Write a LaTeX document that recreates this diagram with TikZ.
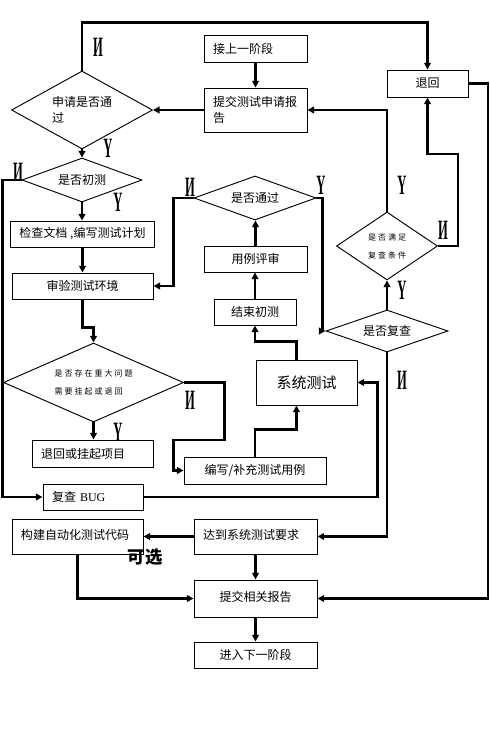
\documentclass[tikz,border=0pt]{standalone}
\usepackage{fontspec}
\usepackage{graphicx}
\setmainfont{Liberation Serif}
\newfontfamily\cjk{Noto Sans CJK SC}
\newfontfamily\cjksmall[LetterSpace=25]{Noto Sans CJK SC}
\usetikzlibrary{shapes.geometric,arrows.meta,calc}
\begin{document}
\begin{tikzpicture}[x=0.75pt,y=-0.75pt,
  conn/.style={line width=1.9pt},
  arr/.style={conn,-{Triangle[length=5pt,width=5pt]}},
  box/.style={draw,line width=0.7pt,inner ysep=0pt,inner xsep=6.75pt,font=\cjk\fontsize{9}{12}\selectfont},
  dia/.style={diamond,draw,line width=0.7pt,inner sep=0pt,font=\cjk\fontsize{9}{12}\selectfont},
  tiny/.style={font=\cjksmall\fontsize{6}{13.5}\selectfont},
  yn/.style={font=\bfseries\fontsize{21}{21}\selectfont,inner sep=0pt},
]
\useasboundingbox[fill=white] (0,0) rectangle (489,730);

% boxes
\node[box,minimum width=77.25pt,minimum height=20.25pt,text width=63.75pt,align=left] (jieshang) at (255.5,48.5) {接上一阶段};
\node[box,minimum width=77.25pt,minimum height=33pt,text width=63.75pt,align=left] (tijiao) at (255.5,110) {提交测试申请报\\告};
\node[box,minimum width=60.75pt,minimum height=20.25pt] (tuihui) at (427.5,83.5) {退回};
\node[box,minimum width=105.75pt,minimum height=19.5pt] (jiancha) at (82.5,234) {检查文档 ,编写测试计划};
\node[box,minimum width=105.75pt,minimum height=19.5pt] (shenyan) at (82.5,286) {审验测试环境};
\node[box,minimum width=77.25pt,minimum height=19.5pt] (yongli) at (255.5,259) {用例评审};
\node[box,minimum width=61.5pt,minimum height=19.5pt] (jieshu) at (255,312) {结束初测};
\node[box,minimum width=75.75pt,minimum height=33.75pt,font=\cjk\fontsize{11.25}{13}\selectfont] (xitong) at (306.5,382.5) {系统测试};
\node[box,minimum width=90.75pt,minimum height=20.25pt,text width=77.25pt,align=left] (tuihuiguaqi) at (92.5,453.5) {退回或挂起项目};
\node[box,minimum width=106.5pt,minimum height=20.25pt] (bianxie) at (255,470.5) {编写/补充测试用例};
\node[box,minimum width=75pt,minimum height=19.5pt,text width=61.5pt,align=left] (fucha) at (93,497) {复查 {\rmfamily BUG}};
\node[box,minimum width=98.25pt,minimum height=26.25pt,text width=84.75pt,align=left] (goujian) at (77.5,536.5) {\raisebox{3pt}{构建自动化测试代码}};
\node[box,minimum width=92.25pt,minimum height=26.25pt,text width=78.75pt,align=left] (dadao) at (255.5,536.5) {\raisebox{3pt}{达到系统测试要求}};
\node[box,minimum width=92.25pt,minimum height=27.75pt] (report) at (255.5,598.5) {\raisebox{3pt}{提交相关报告}};
\node[box,minimum width=92.25pt,minimum height=19.5pt] (jinru) at (255.5,655) {进入下一阶段};

% diamonds
\node[dia,aspect=1.8,minimum width=105.75pt,minimum height=58.5pt,align=left] (d1) at (82,110) {申请是否通\\过};
\node[dia,aspect=2.7,minimum width=90pt,minimum height=33pt] (d2) at (82,180) {是否初测};
\node[dia,aspect=2.8,minimum width=91.5pt,minimum height=33pt] (d3) at (255,198) {是否通过};
\node[dia,tiny,aspect=2.27,minimum width=135pt,minimum height=59.25pt,align=left] (d4) at (93.5,382.5) {是否存在重大问题\\需要挂起或退回};
\node[dia,tiny,aspect=1.5,minimum width=75.75pt,minimum height=51pt,align=left] (d5) at (387,246) {是否满足\\复查条件};
\node[dia,aspect=2.9,minimum width=91.5pt,minimum height=31.5pt] (d6) at (387,331) {是否复查};

% connectors
\draw[arr] (d1.north) -- ++(0,-48) -| (tuihui.north);
\draw[arr] (jieshang.south) -- (tijiao.north);
\draw[arr] (tijiao.west) -- (d1.east);
\draw[arr] (d5.north) |- (tijiao.east);
\draw[arr] (tuihui.east) -- ++(19.5,0) |- (report.east);
\draw[arr] (d5.east) -- ++(20,0) -- ++(0,-92) -| (tuihui.south);
\draw[arr] (d6.north) -- (d5.south);
\draw[arr] (d3.east) -- ++(6,0) |- (d6.west);
\draw[arr] (d3.west) -- ++(-20,0) |- (shenyan.east);
\draw[arr] (yongli.north) -- (yongli.north |- d3.south);
\draw[arr] (jieshu.north) -- (jieshu.north |- yongli.south);
\draw[arr] (xitong.north -| jieshu.east) -- ++(0,-18) -| (jieshu.south);
\draw[arr] (d1.south) -- (d2.north);
\draw[arr] (d2.south) -- (d2.south |- jiancha.north);
\draw[arr] (jiancha.south) -- (shenyan.north);
\draw[arr] (d2.west) -- ++(-19,0) |- (fucha.west);
\draw[arr] (shenyan.south) -- ++(0,28) -| (d4.north);
\draw[arr] (d4.south) -- (d4.south |- tuihuiguaqi.north);
\draw[arr] (d4.east) -- ++(40.5,0) -- ++(0,57.5) -- ++(-51,0) |- (bianxie.west);
\draw[arr] (bianxie.north) -- ++(0,-27) -| (xitong.south -| jieshu.east);
\draw[arr] (fucha.east) -- ++(234,0) |- (xitong.east);
\draw[arr] (d6.south) |- (dadao.east);
\draw[arr] (dadao.west) -- (goujian.east);
\draw[arr] (goujian.south) |- (report.west);
\draw[arr] (dadao.south) -- (report.north);
\draw[arr] (report.south) -- (jinru.north);

% labels
\node[yn] (n1) at (98,47) {\scalebox{0.45}[1]{И}};
\node[yn] (n2) at (18,172) {\scalebox{0.45}[1]{И}};
\node[yn] (n3) at (190,187) {\scalebox{0.45}[1]{И}};
\node[yn] (n4) at (190,400) {\scalebox{0.45}[1]{И}};
\node[yn] (n5) at (443,230) {\scalebox{0.45}[1]{И}};
\node[yn] (n6) at (402,380) {\scalebox{0.45}[1]{И}};
\node[yn] (y1) at (108,148) {\scalebox{0.45}[1]{Y}};
\node[yn] (y2) at (118,202) {\scalebox{0.45}[1]{Y}};
\node[yn] (y3) at (118,432) {\scalebox{0.45}[1]{Y}};
\node[yn] (y4) at (321,185) {\scalebox{0.45}[1]{Y}};
\node[yn] (y5) at (402,185) {\scalebox{0.45}[1]{Y}};
\node[yn] (y6) at (402,290) {\scalebox{0.45}[1]{Y}};
\node[font=\cjk\bfseries\fontsize{13}{13}\selectfont,inner sep=0pt] (kexuan) at (145,557) {可选};
\end{tikzpicture}
\end{document}
